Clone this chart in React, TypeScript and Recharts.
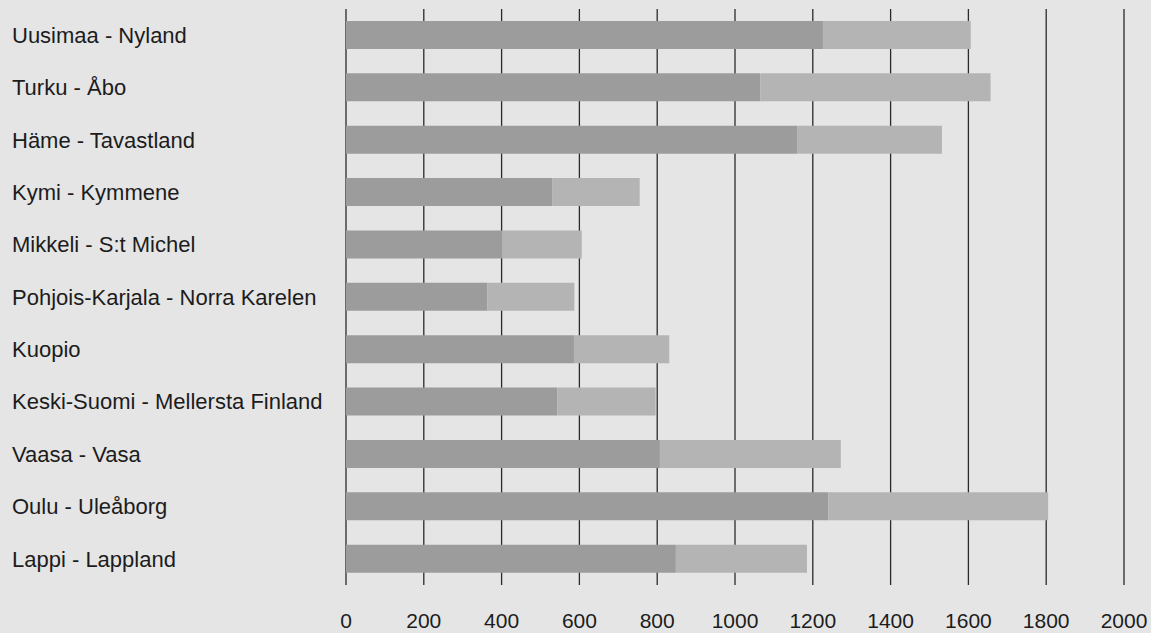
import { BarChart, Bar, XAxis, YAxis, CartesianGrid } from 'recharts';

const regions = [
  'Uusimaa - Nyland',
  'Turku - Åbo',
  'Häme - Tavastland',
  'Kymi - Kymmene',
  'Mikkeli - S:t Michel',
  'Pohjois-Karjala - Norra Karelen',
  'Kuopio',
  'Keski-Suomi - Mellersta Finland',
  'Vaasa - Vasa',
  'Oulu - Uleåborg',
  'Lappi - Lappland',
];

const darkValues = [1226, 1065, 1161, 531, 402, 363, 586, 543, 807, 1240, 848];
const lightValues = [380, 592, 371, 224, 204, 224, 245, 253, 465, 565, 337];

const xTicks = [0, 200, 400, 600, 800, 1000, 1200, 1400, 1600, 1800, 2000];

const data = regions.map((region, i) => ({
  region,
  dark: darkValues[i],
  light: lightValues[i],
}));

const FONT = '"Liberation Sans", Arial, Helvetica, sans-serif';

function RegionTick(props: any) {
  const { y, payload } = props;
  return (
    <text
      x={12}
      y={y}
      dy="0.35em"
      textAnchor="start"
      fill="#1c1c1c"
      style={{ fontFamily: FONT, fontSize: 22 }}
    >
      {payload.value}
    </text>
  );
}

export default function App() {
  return (
    <div style={{ position: 'fixed', left: 0, top: 0, width: 1151, height: 633, background: '#e5e5e5' }}>
      <BarChart
        width={1151}
        height={633}
        data={data}
        layout="vertical"
        margin={{ top: 9, right: 27, bottom: 0, left: 10 }}
        barCategoryGap={0}
      >
        <CartesianGrid horizontal={false} stroke="#2a2a2a" strokeWidth={1.3} />
        <XAxis
          type="number"
          domain={[0, 2000]}
          ticks={xTicks}
          interval={0}
          axisLine={false}
          tickLine={false}
          tickMargin={22}
          height={48}
          tick={{ fill: '#1c1c1c', fontSize: 21, fontFamily: FONT }}
        />
        <YAxis
          type="category"
          dataKey="region"
          width={336}
          axisLine={false}
          tickLine={false}
          tick={<RegionTick />}
          interval={0}
        />
        <Bar dataKey="dark" stackId="a" fill="#9c9c9c" barSize={28} isAnimationActive={false} />
        <Bar dataKey="light" stackId="a" fill="#b4b4b4" barSize={28} isAnimationActive={false} />
      </BarChart>
    </div>
  );
}
